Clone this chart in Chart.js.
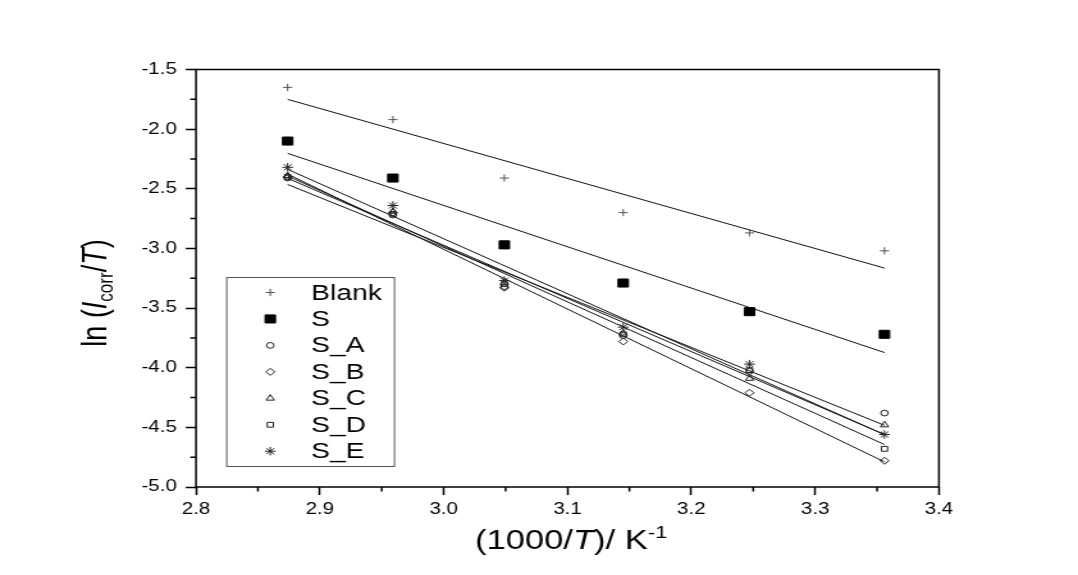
<!DOCTYPE html>
<html>
<head>
<meta charset="utf-8">
<title>ln(Icorr/T) vs 1000/T</title>
<script src="https://cdn.jsdelivr.net/npm/chart.js@4.4.1/dist/chart.umd.min.js"></script>
<style>
  html, body { margin: 0; padding: 0; background: #fff; }
  #plot { display: block; }
</style>
</head>
<body>
<!-- canvas is rendered narrower and stretched to the full frame width -->
<canvas id="plot" width="842" height="575" style="width:1078px;height:575px"></canvas>
<script>
// 1000/T (K^-1), shared by all series
const invTemp = [2.874, 2.959, 3.049, 3.145, 3.247, 3.356];

// ln(Icorr/T) for each sample
const blank  = [-1.65, -1.92, -2.41, -2.70, -2.87, -3.02];
const sPlain = [-2.10, -2.41, -2.97, -3.29, -3.53, -3.72];
const sA     = [-2.41, -2.72, -3.32, -3.73, -4.03, -4.38];
const sB     = [-2.40, -2.70, -3.33, -3.78, -4.21, -4.78];
const sC     = [-2.39, -2.69, -3.29, -3.71, -4.09, -4.48];
const sD     = [-2.40, -2.71, -3.30, -3.72, -4.02, -4.68];
const sE     = [-2.32, -2.64, -3.27, -3.66, -3.97, -4.56];

const seriesNames = ['Blank', 'S', 'S_A', 'S_B', 'S_C', 'S_D', 'S_E'];
const seriesValues = [blank, sPlain, sA, sB, sC, sD, sE];

// axis ticks
const xTicks = [2.8, 2.9, 3.0, 3.1, 3.2, 3.3, 3.4];
const xMinorTicks = [2.85, 2.95, 3.05, 3.15, 3.25, 3.35];
const yTicks = [-5.0, -4.5, -4.0, -3.5, -3.0, -2.5, -2.0, -1.5];
const yMinorTicks = [-4.75, -4.25, -3.75, -3.25, -2.75, -2.25, -1.75];

const FONT = '"Liberation Sans", Arial, Helvetica, sans-serif';
const NONE = 'rgba(0,0,0,0)';

// marker per series (same order as seriesNames)
const markerStyles = [
    { pointStyle: 'cross',    radius: 3.6, fill: NONE,   stroke: '#555' },
    { pointStyle: 'rect',     radius: 5.7, fill: '#000', stroke: '#000' },
    { pointStyle: 'circle',   radius: 2.9, fill: NONE,   stroke: '#222' },
    { pointStyle: 'rectRot',  radius: 3.5, fill: NONE,   stroke: '#222' },
    { pointStyle: 'triangle', radius: 3.7, fill: NONE,   stroke: '#222' },
    { pointStyle: 'rect',     radius: 3.4, fill: NONE,   stroke: '#222' },
    { pointStyle: 'star',     radius: 4.2, fill: NONE,   stroke: '#222' }
];

/**
 * Least-squares straight line through the points
 */
function linearFit(xs, ys) {
    const n = xs.length;
    const mx = xs.reduce((a, b) => a + b, 0) / n;
    const my = ys.reduce((a, b) => a + b, 0) / n;
    let sxy = 0, sxx = 0;
    for (let i = 0; i < n; i++) {
        sxy += (xs[i] - mx) * (ys[i] - my);
        sxx += (xs[i] - mx) * (xs[i] - mx);
    }
    const slope = sxy / sxx;
    return x => my + slope * (x - mx);
}

// point datasets
const pointSets = seriesValues.map((vals, i) => ({
    label: seriesNames[i],
    data: vals.map((y, j) => ({ x: invTemp[j], y })),
    pointStyle: markerStyles[i].pointStyle,
    pointRadius: markerStyles[i].radius,
    pointHoverRadius: markerStyles[i].radius,
    pointBackgroundColor: markerStyles[i].fill,
    pointBorderColor: markerStyles[i].stroke,
    pointBorderWidth: 1,
    showLine: false,
    order: 1
}));

// fitted lines, from first to last temperature
const fitSets = seriesValues.map((vals, i) => {
    const fit = linearFit(invTemp, vals);
    const x0 = invTemp[0];
    const x1 = invTemp[invTemp.length - 1];
    return {
        label: seriesNames[i] + ' fit',
        data: [{ x: x0, y: fit(x0) }, { x: x1, y: fit(x1) }],
        showLine: true,
        borderColor: '#111',
        borderWidth: 1,
        pointRadius: 0,
        pointHoverRadius: 0,
        order: 2
    };
});

/**
 * Draw a line of text made of runs (italic, subscript, superscript), centred on x
 */
function drawRich(ctx, runs, x, y, size) {
    const fontFor = r => (r.italic ? 'italic ' : '') +
        ((r.sub || r.sup) ? Math.round(size * 0.62) : size) + 'px ' + FONT;
    const widths = runs.map(r => { ctx.font = fontFor(r); return ctx.measureText(r.text).width; });
    const total = widths.reduce((a, b) => a + b, 0);
    let cx = x - total / 2;
    ctx.textAlign = 'left';
    ctx.textBaseline = 'alphabetic';
    runs.forEach((r, i) => {
        ctx.font = fontFor(r);
        const dy = r.sub ? size * 0.2 : (r.sup ? -size * 0.4 : 0);
        ctx.fillText(r.text, cx, y + dy);
        cx += widths[i];
    });
}

// frame, minor ticks, axis titles and legend
const framePlugin = {
    id: 'frame',
    afterDraw(chart) {
        const ctx = chart.ctx;
        const area = chart.chartArea;
        const xs = chart.scales.x;
        const ys = chart.scales.y;

        ctx.save();
        ctx.strokeStyle = '#000';
        ctx.lineWidth = 1.5;
        ctx.strokeRect(area.left, area.top, area.right - area.left, area.bottom - area.top);

        // minor ticks
        ctx.lineWidth = 1.5;
        ctx.beginPath();
        xMinorTicks.forEach(v => {
            const px = xs.getPixelForValue(v);
            ctx.moveTo(px, area.bottom);
            ctx.lineTo(px, area.bottom + 4.5);
        });
        yMinorTicks.forEach(v => {
            const py = ys.getPixelForValue(v);
            ctx.moveTo(area.left, py);
            ctx.lineTo(area.left - 4.5, py);
        });
        ctx.stroke();

        // axis titles
        ctx.fillStyle = '#000';
        drawRich(ctx, [
            { text: '(1000/' },
            { text: 'T', italic: true },
            { text: ')/ K' },
            { text: '-1', sup: true }
        ], 446, 549, 27);

        ctx.save();
        ctx.translate(83, 293);
        ctx.rotate(-Math.PI / 2);
        drawRich(ctx, [
            { text: 'ln (' },
            { text: 'I', italic: true },
            { text: 'corr', sub: true },
            { text: '/' },
            { text: 'T', italic: true },
            { text: ')' }
        ], 0, 0, 27);
        ctx.restore();

        // legend box inside the plot
        const boxLeft = area.left + 24;
        const boxTop = area.top + 208;
        const boxRight = boxLeft + 131;
        const boxBottom = area.bottom - 20.5;
        ctx.strokeStyle = '#555';
        ctx.lineWidth = 1;
        ctx.strokeRect(boxLeft, boxTop, boxRight - boxLeft, boxBottom - boxTop);

        ctx.font = '22px ' + FONT;
        ctx.textAlign = 'left';
        ctx.textBaseline = 'middle';
        seriesNames.forEach((name, i) => {
            const rowY = boxTop + 15 + i * 26.45;
            const m = markerStyles[i];
            ctx.fillStyle = m.fill;
            ctx.strokeStyle = m.stroke;
            ctx.lineWidth = 1;
            Chart.helpers.drawPoint(ctx, {
                pointStyle: m.pointStyle,
                radius: m.radius,
                rotation: 0,
                borderWidth: 1
            }, boxLeft + 34, rowY);
            ctx.fillStyle = '#000';
            ctx.fillText(name, boxLeft + 66, rowY + 1);
        });
        ctx.restore();
    }
};

const axisFont = { family: FONT, size: 16 };

new Chart(document.getElementById('plot'), {
    type: 'scatter',
    data: { datasets: [...fitSets, ...pointSets] },
    options: {
        responsive: false,
        animation: false,
        events: [],
        layout: { padding: { left: 0, right: 108.6, top: 69.5, bottom: 0 } },
        plugins: {
            legend: { display: false },
            tooltip: { enabled: false }
        },
        scales: {
            x: {
                type: 'linear',
                min: 2.8,
                max: 3.4,
                afterBuildTicks: s => { s.ticks = xTicks.map(v => ({ value: v })); },
                afterFit: s => { s.height = 88; },
                border: { display: false },
                grid: {
                    drawOnChartArea: false,
                    drawTicks: true,
                    tickLength: 8,
                    tickWidth: 1.5,
                    tickColor: '#000'
                },
                ticks: {
                    font: axisFont,
                    color: '#000',
                    padding: 5,
                    maxRotation: 0,
                    callback: v => Number(v).toFixed(1)
                }
            },
            y: {
                type: 'linear',
                min: -5.0,
                max: -1.5,
                afterBuildTicks: s => { s.ticks = yTicks.map(v => ({ value: v })); },
                afterFit: s => { s.width = 153.1; },
                border: { display: false },
                grid: {
                    drawOnChartArea: false,
                    drawTicks: true,
                    tickLength: 8,
                    tickWidth: 1.5,
                    tickColor: '#000'
                },
                ticks: {
                    font: axisFont,
                    color: '#000',
                    padding: 7,
                    callback: v => Number(v).toFixed(1)
                }
            }
        }
    },
    plugins: [framePlugin]
});
</script>
</body>
</html>
